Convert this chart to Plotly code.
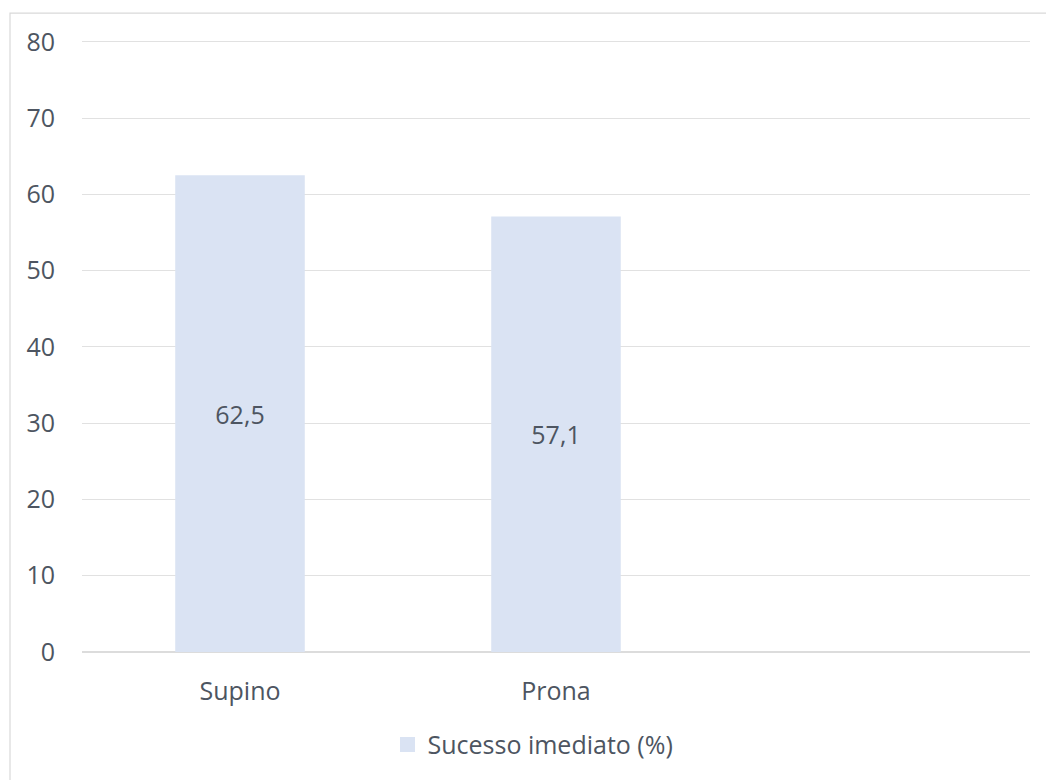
import plotly.graph_objects as go

categories = ["Supino", "Prona", ""]
values = [62.5, 57.1, None]
series_name = "Sucesso imediato (%)"
y_ticks = [0, 10, 20, 30, 40, 50, 60, 70, 80]

TEXT = "#4d5561"
FONT = "Open Sans"
FS = 25
BAR = "#dae3f3"

fig = go.Figure()
fig.add_trace(go.Bar(
    x=categories, y=values, name=series_name,
    marker=dict(color=BAR, line=dict(width=0)),
    text=[f"{v:.1f}".replace(".", ",") if v is not None else "" for v in values],
    textposition="inside", insidetextanchor="middle", textangle=0,
    textfont=dict(family=FONT, size=FS, color=TEXT),
    showlegend=False, legendgroup="s",
))
# legend entry with a larger square swatch (same series)
fig.add_trace(go.Scatter(
    x=[None], y=[None], mode="markers", name=series_name, legendgroup="s",
    marker=dict(symbol="square", size=15, color=BAR), showlegend=True,
))

W, H = 1046, 780
L, R, T, B = 82, 16, 40, 126
pw, ph = W - L - R, H - T - B
ymax = 80.25

fig.update_layout(
    width=W, height=H,
    margin=dict(l=L, r=R, t=T, b=B),
    paper_bgcolor="white", plot_bgcolor="white",
    bargap=0.59,
    separators=",.",
    font=dict(family=FONT, size=FS, color=TEXT),
    xaxis=dict(
        type="category", categoryorder="array", categoryarray=categories,
        range=[-0.5, 2.5], showgrid=False, zeroline=False, showline=False,
        ticks="outside", ticklen=17, tickcolor="rgba(0,0,0,0)",
        tickfont=dict(family=FONT, size=FS, color=TEXT),
    ),
    yaxis=dict(
        range=[0, ymax], tickvals=y_ticks, showgrid=True, gridcolor="#e1e1e1", gridwidth=1.3,
        zeroline=True, zerolinecolor="#dcdcdc", zerolinewidth=1.6, showline=False,
        ticks="outside", ticklen=21, tickcolor="rgba(0,0,0,0)",
        tickfont=dict(family=FONT, size=FS, color=TEXT),
    ),
    legend=dict(
        orientation="h", x=(533 - L) / pw, xanchor="center", y=-(747 - 654) / ph, yanchor="middle",
        font=dict(family=FONT, size=FS, color=TEXT), itemwidth=30,
    ),
    shapes=[dict(
        type="rect", xref="paper", yref="paper",
        x0=(10 - L) / pw, x1=1.2, y0=-0.4, y1=(H - B - 13) / ph,
        line=dict(color="#d9d9d9", width=1.2), fillcolor="rgba(0,0,0,0)", layer="below",
    )],
)

fig.write_html("out.html")
